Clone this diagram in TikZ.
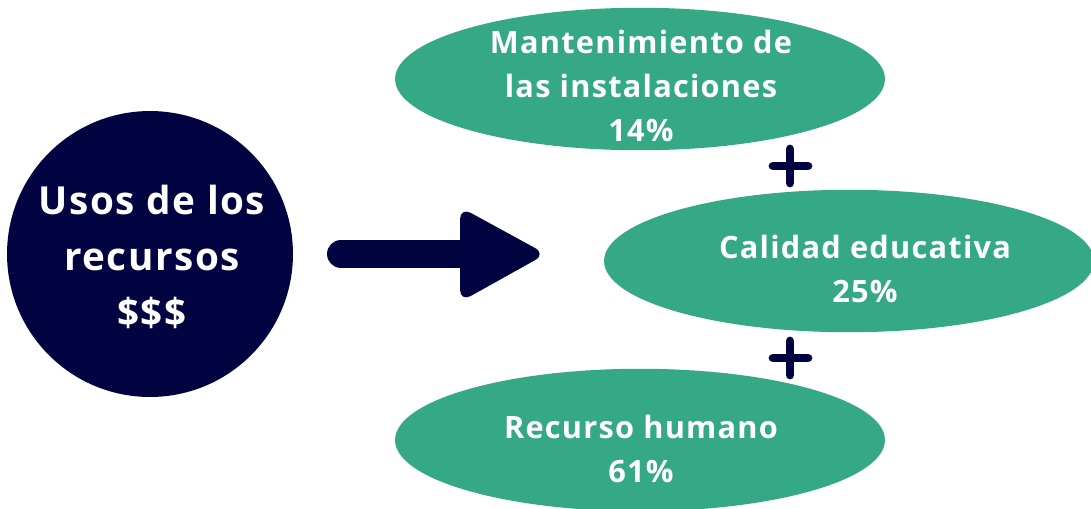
\documentclass[tikz,border=0pt]{standalone}
\usepackage{fontspec}
\setmainfont{Open Sans}
\newfontfamily\widefont[LetterSpace=4]{Open Sans}
\usetikzlibrary{calc}
\usetikzlibrary{shapes.geometric}
\usepackage{xcolor}
\definecolor{navy}{HTML}{020442}
\definecolor{teal}{HTML}{35A886}
\tikzset{
 area/.style={ellipse, fill=teal, minimum width=9.8cm, minimum height=2.85cm, inner sep=0},
 areatext/.style={text=white, font=\widefont\fontsize{17.5}{25}\selectfont\bfseries, align=center},
 plus/.style={navy, line width=5pt, line cap=round}
}

\begin{document}
\begin{tikzpicture}[x=.02cm, y=-.02cm]
\useasboundingbox (0,0) rectangle (1091,508);
\clip (0,0) rectangle (1091,508);
\node[circle, fill=navy, minimum size=5.72cm, inner sep=0] (usos) at (150,254) {};
\node[text=white, font=\widefont\fontsize{22}{31.7}\selectfont\bfseries, align=center] (usostxt) at (152,257) {Usos de los\\recursos\\\$\$\$};
% flecha
\coordinate (a0) at (341,254);
\coordinate (a1) at (470,254);
\draw[navy, line width=.56cm, line cap=round] (a0) -- (a1);
\fill[navy, rounded corners=7pt] (460,207) -- (546,254) -- (460,302) -- cycle;
% areas
\node[area] (mant) at (640,79) {};
\node[area] (cal) at (849,261) {};
\node[area] (hum) at (640,440) {};
\node[areatext] (manttxt) at ($(mant.center)+(1,7)$) {Mantenimiento de\\las instalaciones\\14\%};
\node[areatext] (caltxt) at ($(cal.center)+(16,8)$) {Calidad educativa\\25\%};
\node[areatext] (humtxt) at ($(hum.center)+(1,9)$) {Recurso humano\\61\%};
% signos +
\foreach \y in {166,358} {
 \draw[plus] (773,\y) --++(35,0);
 \draw[plus] (790,\y-17) --++(0,34);
}
\end{tikzpicture}
\end{document}
